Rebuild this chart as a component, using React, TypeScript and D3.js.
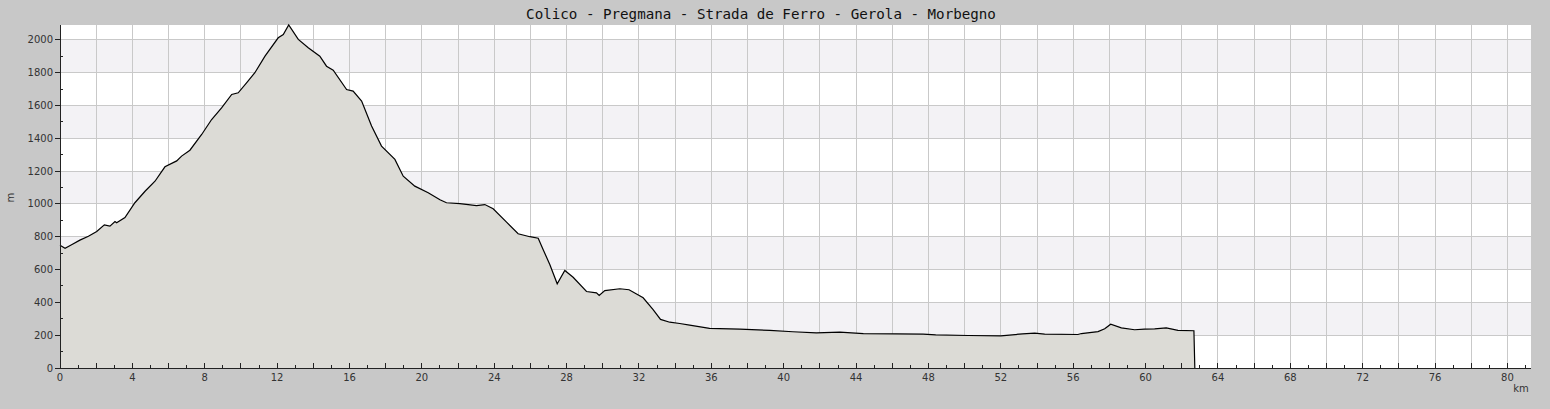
import { useEffect, useRef } from 'react';
import * as d3 from 'd3';

const TITLE = 'Colico - Pregmana - Strada de Ferro - Gerola - Morbegno';

// distance along the route (km) and elevation (m)
const distKm = [
  0, 0.28, 0.64, 1.1, 1.57, 2.03, 2.45, 2.76, 3.04, 3.13, 3.59, 4.14, 4.7, 5.25, 5.8, 6.45, 6.72,
  7.18, 7.83, 8.38, 8.93, 9.49, 9.85, 10.31, 10.77, 11.33, 12.06, 12.34, 12.64, 13.17, 13.72,
  14.36, 14.73, 15.1, 15.84, 16.2, 16.67, 17.22, 17.77, 18.51, 18.97, 19.61, 20.35, 21.0, 21.36,
  22.1, 23.02, 23.48, 23.94, 24.68, 25.32, 25.97, 26.43, 26.7, 27.07, 27.48, 27.9, 28.36, 29.1,
  29.65, 29.8, 30.11, 30.94, 31.45, 32.23, 32.78, 33.19, 33.7, 34.25, 34.8, 35.9, 37.57, 39.23,
  40.5, 41.8, 43.1, 44.4, 46.2, 47.7, 48.4, 50.18, 52.0, 53.2, 53.87, 54.42, 56.26, 56.45, 57.37,
  57.74, 58.07, 58.66, 59.39, 59.94, 60.5, 61.14, 61.79, 62.67, 62.72,
];
const elevM = [
  748, 730, 751, 779, 803, 832, 872, 864, 893, 885, 917, 1007, 1077, 1138, 1226, 1262, 1291,
  1327, 1423, 1514, 1585, 1667, 1677, 1738, 1799, 1900, 2012, 2032, 2090, 2002, 1951,
  1900, 1839, 1815, 1697, 1687, 1626, 1474, 1352, 1271, 1169, 1108, 1068, 1025, 1007,
  1002, 990, 996, 970, 889, 818, 800, 791, 722, 631, 513, 594, 553, 466,
  458, 442, 472, 483, 477, 428, 356, 296, 279, 271, 261, 241, 237, 229,
  221, 214, 218, 210, 208, 206, 202, 198, 196, 208, 212, 206, 204, 210, 222,
  239, 267, 245, 233, 237, 239, 245, 229, 227, 0,
];

const X_MAX = 81.3;
const Y_MAX = 2090;
const xLabelTicks = d3.range(0, 81, 4);
const yLabelTicks = d3.range(0, 2001, 200);

const W = 1550;
const H = 409;
const margin = { top: 25, right: 19, bottom: 41, left: 60 };

export default function App() {
  const gRef = useRef<SVGGElement>(null);
  const w = W - margin.left - margin.right;
  const h = H - margin.top - margin.bottom;

  useEffect(() => {
    if (!gRef.current) return;
    const g = d3.select(gRef.current);
    g.selectAll('*').remove();

    const x = d3.scaleLinear().domain([0, X_MAX]).range([0, w]);
    const y = d3.scaleLinear().domain([0, Y_MAX]).range([h, 0]);
    const pts = distKm.map((d, i) => [d, elevM[i]] as [number, number]);

    g.append('rect').attr('width', w).attr('height', h).attr('fill', '#ffffff');

    // alternating bands
    for (let v = 200; v < Y_MAX; v += 400) {
      g.append('rect')
        .attr('x', 0)
        .attr('y', y(Math.min(v + 200, Y_MAX)))
        .attr('width', w)
        .attr('height', y(v) - y(Math.min(v + 200, Y_MAX)))
        .attr('fill', '#f3f2f5');
    }

    // grid
    const grid = g.append('g').attr('stroke', '#c9c9c9').attr('stroke-width', 1).attr('shape-rendering', 'crispEdges');
    d3.range(2, X_MAX, 2).forEach((k) => {
      grid.append('line').attr('x1', x(k)).attr('x2', x(k)).attr('y1', 0).attr('y2', h);
    });
    yLabelTicks.slice(1).forEach((v) => {
      grid.append('line').attr('x1', 0).attr('x2', w).attr('y1', y(v)).attr('y2', y(v));
    });

    const area = d3.area<[number, number]>().x((d) => x(d[0])).y0(h).y1((d) => y(d[1]));
    const line = d3.line<[number, number]>().x((d) => x(d[0])).y((d) => y(d[1]));

    g.append('path').datum(pts).attr('d', area).attr('fill', '#dcdbd6');
    g.append('path')
      .datum(pts)
      .attr('d', line)
      .attr('fill', 'none')
      .attr('stroke', '#000')
      .attr('stroke-width', 1.2);

    // y axis
    const yAxis = g.append('g').attr('shape-rendering', 'crispEdges');
    yAxis.append('line').attr('x1', 0).attr('x2', 0).attr('y1', 0).attr('y2', h).attr('stroke', '#222');
    d3.range(100, Y_MAX, 200).forEach((v) => {
      yAxis.append('line').attr('x1', 0).attr('x2', 3).attr('y1', y(v)).attr('y2', y(v)).attr('stroke', '#222');
    });
    yLabelTicks.forEach((v) => {
      yAxis.append('line').attr('x1', -5).attr('x2', 0).attr('y1', y(v)).attr('y2', y(v)).attr('stroke', '#222');
      yAxis
        .append('text')
        .attr('x', -7)
        .attr('y', y(v) + 3.5)
        .attr('text-anchor', 'end')
        .text(v);
    });

    // x axis
    const xAxis = g.append('g').attr('transform', `translate(0,${h})`).attr('shape-rendering', 'crispEdges');
    xAxis.append('line').attr('x1', 0).attr('x2', w).attr('y1', 0).attr('y2', 0).attr('stroke', '#222');
    d3.range(1, X_MAX, 1).forEach((k) => {
      xAxis
        .append('line')
        .attr('x1', x(k))
        .attr('x2', x(k))
        .attr('y1', 0)
        .attr('y2', k % 2 === 0 ? -5 : -3)
        .attr('stroke', '#222');
    });
    xLabelTicks.forEach((k) => {
      xAxis.append('text').attr('x', x(k)).attr('y', 13).attr('text-anchor', 'middle').text(k);
    });
    xAxis.append('text').attr('x', w - 10).attr('y', 24).attr('text-anchor', 'middle').text('km');

    g.selectAll('text').attr('fill', '#333').style('font-family', 'DejaVu Sans').style('font-size', '10px');
  }, []);

  return (
    <svg width={W} height={H} style={{ position: 'absolute', left: 0, top: 0, display: 'block' }}>
      <rect width={W} height={H} fill="#c8c8c8" />
      <text
        x={761}
        y={18.5}
        textAnchor="middle"
        fill="#111"
        style={{ fontFamily: 'DejaVu Sans Mono', fontSize: '14.2px' }}
      >
        {TITLE}
      </text>
      <text
        transform={`translate(14,${margin.top + h / 2 + 1}) rotate(-90)`}
        textAnchor="middle"
        fill="#333"
        style={{ fontFamily: 'DejaVu Sans', fontSize: '10px' }}
      >
        m
      </text>
      <g ref={gRef} transform={`translate(${margin.left},${margin.top})`} />
    </svg>
  );
}
